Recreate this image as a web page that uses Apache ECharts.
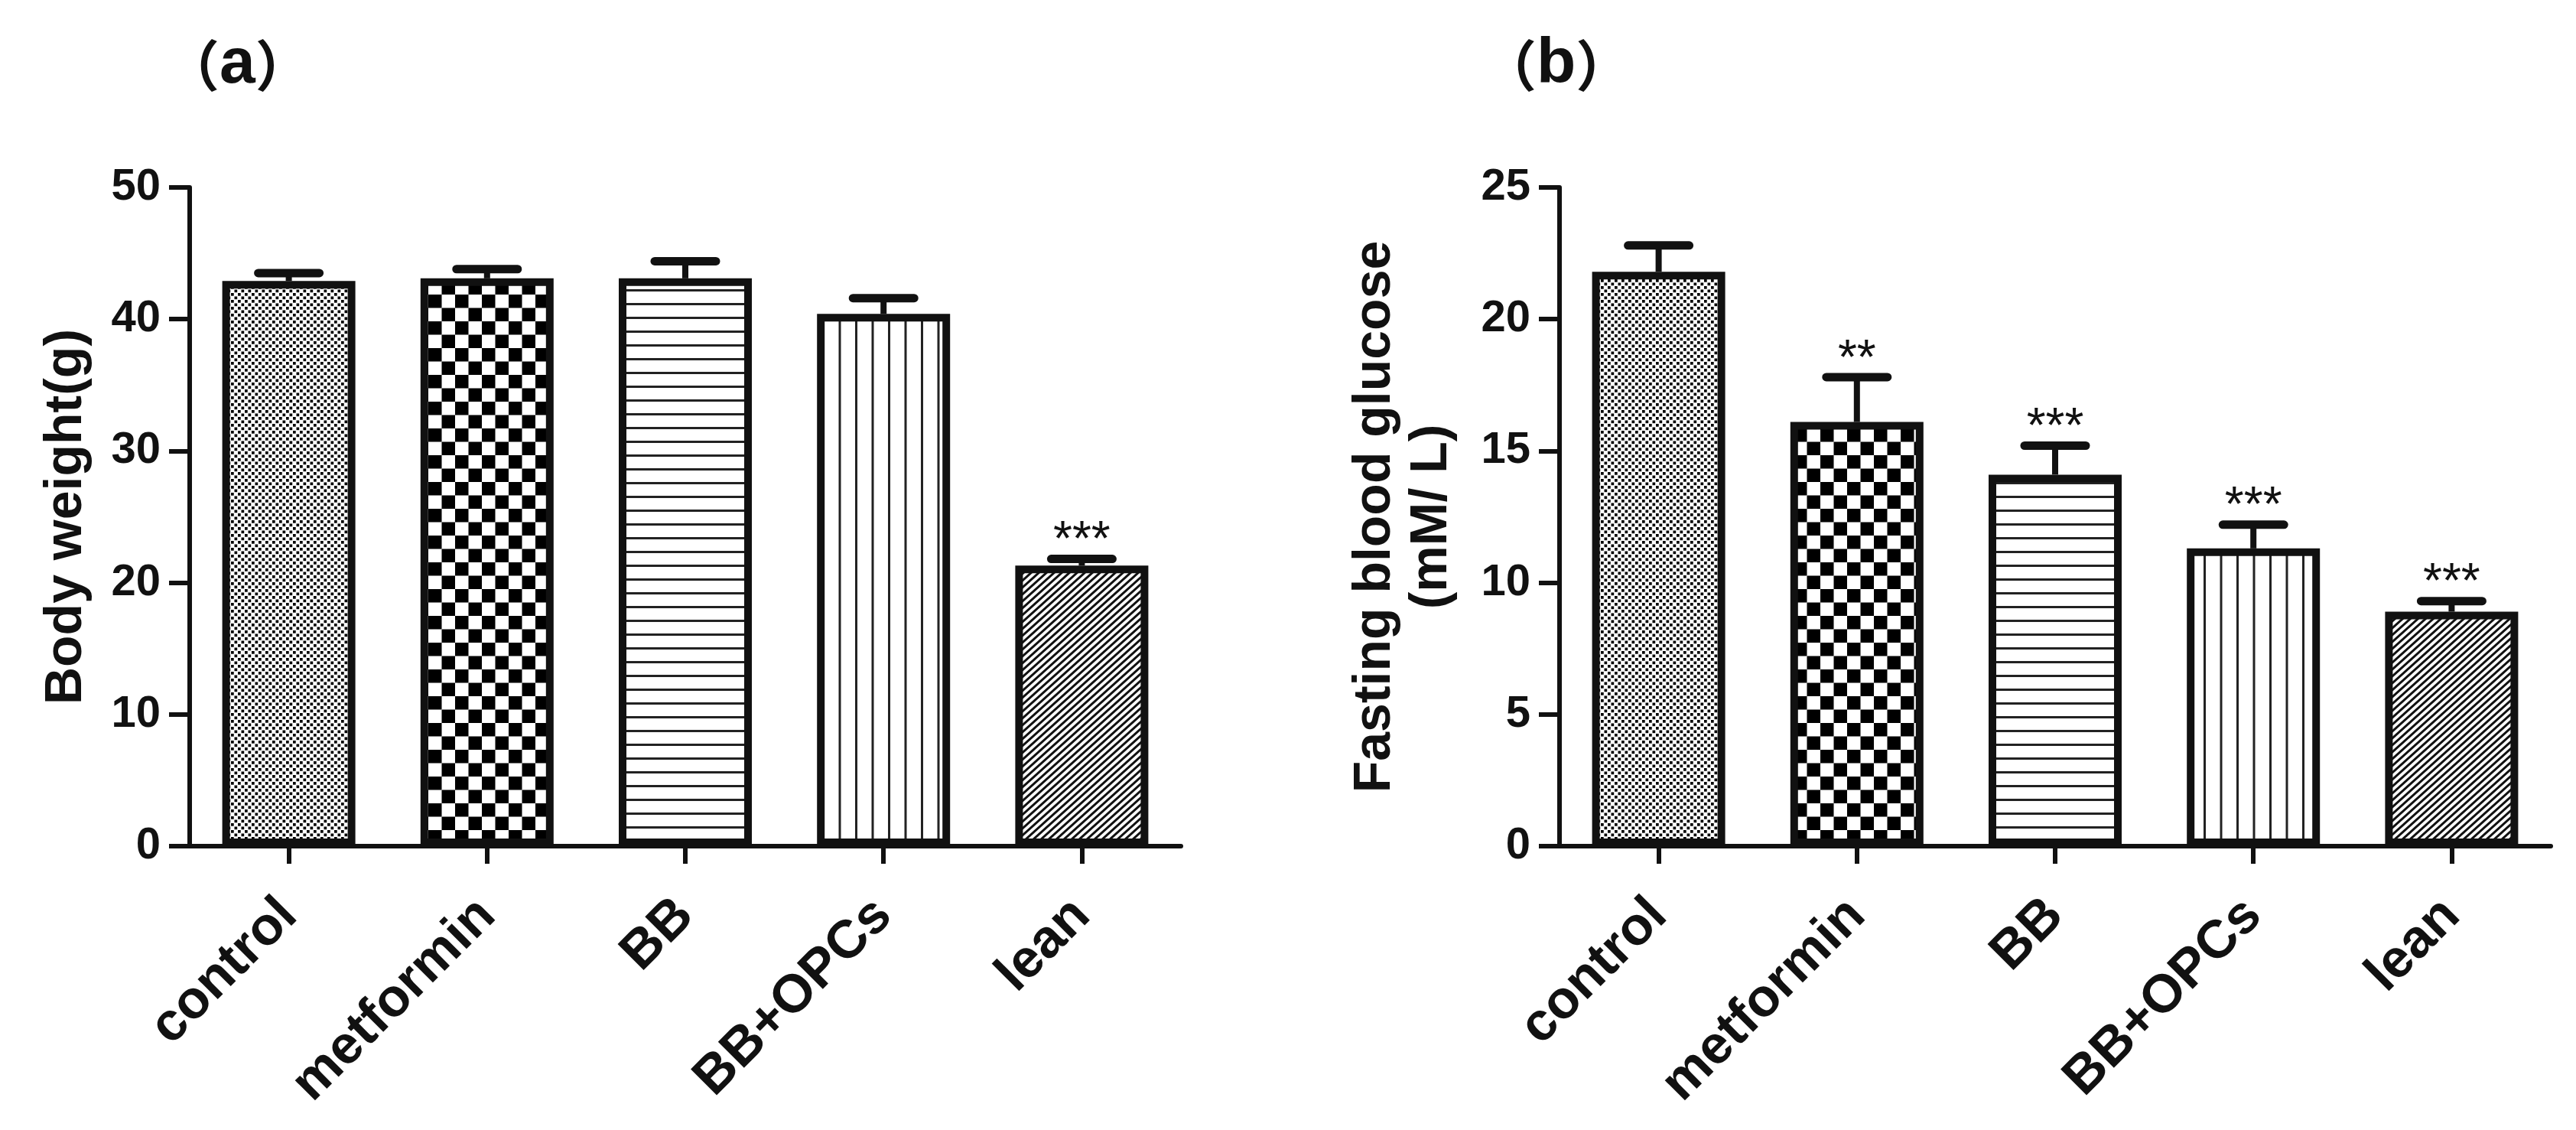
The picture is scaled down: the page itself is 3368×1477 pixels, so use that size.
<!DOCTYPE html>
<html>
<head>
<meta charset="utf-8">
<script src="https://cdn.jsdelivr.net/npm/echarts@6/dist/echarts.min.js"></script>
<style>
  html, body { margin: 0; padding: 0; background: #fff; }
  #chart { width: 3368px; height: 1477px; }
</style>
</head>
<body>
<div id="chart"></div>
<script>
// groups on the x axis
const categories = ['control', 'metformin', 'BB', 'BB+OPCs', 'lean'];

// (a) body weight, g
const weightMean = [42.9, 43.1, 43.1, 40.4, 21.3];
const weightSem = [0.6, 0.7, 1.3, 1.2, 0.5];
const weightStars = ['', '', '', '', '***'];
const weightTicks = [0, 10, 20, 30, 40, 50];

// (b) fasting blood glucose, mM/L
const glucoseMean = [21.8, 16.1, 14.1, 11.3, 8.9];
const glucoseSem = [1.0, 1.7, 1.1, 0.9, 0.4];
const glucoseStars = ['', '**', '***', '***', '***'];
const glucoseTicks = [0, 5, 10, 15, 20, 25];

const FONT = '"Liberation Sans", Arial, sans-serif';
const INK = '#111';

// fill patterns, one per group
function makePattern(kind) {
  const c = document.createElement('canvas');
  let ctx;
  if (kind === 'fineCheck') {
    c.width = 9; c.height = 9;
    ctx = c.getContext('2d');
    ctx.fillStyle = '#fff'; ctx.fillRect(0, 0, 9, 9);
    ctx.fillStyle = '#000';
    ctx.fillRect(0.5, 0.5, 3.7, 3.7);
    ctx.fillRect(5, 5, 3.7, 3.7);
  } else if (kind === 'bigCheck') {
    c.width = 35; c.height = 35;
    ctx = c.getContext('2d');
    ctx.fillStyle = '#fff'; ctx.fillRect(0, 0, 35, 35);
    ctx.fillStyle = '#000';
    ctx.fillRect(0, 0, 17.5, 17.5);
    ctx.fillRect(17.5, 17.5, 17.5, 17.5);
  } else if (kind === 'hLines') {
    c.width = 8; c.height = 18;
    ctx = c.getContext('2d');
    ctx.fillStyle = '#fff'; ctx.fillRect(0, 0, 8, 18);
    ctx.fillStyle = '#222';
    ctx.fillRect(0, 0, 8, 3);
  } else if (kind === 'vLines') {
    c.width = 43; c.height = 8;
    ctx = c.getContext('2d');
    ctx.fillStyle = '#fff'; ctx.fillRect(0, 0, 43, 8);
    ctx.fillStyle = '#222';
    ctx.fillRect(0, 0, 3, 8);
    ctx.fillRect(21.5, 0, 3, 8);
  } else {
    // diagonal hatching rising to the right
    const W = 20, H = 18;
    c.width = W; c.height = H;
    ctx = c.getContext('2d');
    ctx.fillStyle = '#fff'; ctx.fillRect(0, 0, W, H);
    ctx.strokeStyle = '#111';
    ctx.lineWidth = 3;
    for (let k = -2; k <= 6; k++) {
      const cc = k * 9;
      ctx.beginPath();
      ctx.moveTo(-W, cc + H);
      ctx.lineTo(2 * W, cc - 2 * H);
      ctx.stroke();
    }
  }
  return { image: c, repeat: 'repeat' };
}

const patterns = ['fineCheck', 'bigCheck', 'hLines', 'vLines', 'diag'].map(makePattern);

function barSeries(means, axisIdx) {
  return {
    type: 'bar',
    xAxisIndex: axisIdx,
    yAxisIndex: axisIdx,
    barWidth: 174,
    z: 3,
    data: means.map((v, i) => ({
      value: v,
      itemStyle: { color: patterns[i], borderColor: INK, borderWidth: 10 }
    }))
  };
}

function errorSeries(means, sems, stars, axisIdx) {
  return {
    type: 'custom',
    xAxisIndex: axisIdx,
    yAxisIndex: axisIdx,
    z: 2,
    data: means.map((v, i) => [i, v, sems[i]]),
    renderItem: function (params, api) {
      const i = api.value(0);
      const base = api.coord([i, api.value(1)]);
      const top = api.coord([i, api.value(1) + api.value(2)]);
      const x = base[0];
      const children = [
        { type: 'line', shape: { x1: x, y1: base[1], x2: x, y2: top[1] },
          style: { stroke: INK, lineWidth: 8 } },
        { type: 'line', shape: { x1: x - 40, y1: top[1], x2: x + 40, y2: top[1] },
          style: { stroke: INK, lineWidth: 11, lineCap: 'round' } }
      ];
      const s = stars[params.dataIndex];
      if (s) {
        children.push({
          type: 'text',
          style: {
            x: x, y: top[1] - 22, text: s, align: 'center', verticalAlign: 'middle',
            font: 'normal 64px ' + FONT, fill: INK
          }
        });
      }
      return { type: 'group', children: children };
    }
  };
}

function yAxisFor(ticks, name, gridIdx, gap) {
  return {
    type: 'value',
    gridIndex: gridIdx,
    min: ticks[0],
    max: ticks[ticks.length - 1],
    interval: ticks[1] - ticks[0],
    name: name,
    nameLocation: 'middle',
    nameRotate: 90,
    nameGap: gap,
    nameTextStyle: { fontFamily: FONT, fontSize: 68, fontWeight: 'bold', color: INK, lineHeight: 74 },
    axisLine: { show: true, lineStyle: { color: INK, width: 6 } },
    axisTick: { show: true, length: 27, lineStyle: { color: INK, width: 6 } },
    splitLine: { show: false },
    axisLabel: { fontFamily: FONT, fontSize: 58, fontWeight: 'bold', color: INK, margin: 38 }
  };
}

function xAxisFor(gridIdx) {
  return {
    type: 'category',
    gridIndex: gridIdx,
    data: categories,
    axisLine: { show: true, lineStyle: { color: INK, width: 6 } },
    axisTick: { show: true, alignWithLabel: true, length: 23, lineStyle: { color: INK, width: 6 } },
    axisLabel: {
      interval: 0, rotate: 45, margin: 80,
      fontFamily: FONT, fontSize: 70, fontWeight: 'bold', color: INK
    }
  };
}

const panelRich = {
  p: { fontFamily: '"Noto Sans CJK SC", sans-serif', fontSize: 72, color: INK },
  b: { fontFamily: FONT, fontSize: 84, fontWeight: 'bold', color: INK }
};

const chart = echarts.init(document.getElementById('chart'), null, { renderer: 'canvas' });
chart.setOption({
  backgroundColor: '#fff',
  animation: false,
  title: [
    { text: '{p|（}{b|a}{p|）}', left: 210, top: 38, textStyle: { rich: panelRich } },
    { text: '{p|（}{b|b}{p|）}', left: 1932, top: 38, textStyle: { rich: panelRich } }
  ],
  grid: [
    { left: 248, top: 245, width: 1296, height: 861 },
    { left: 2039, top: 245, width: 1296, height: 861 }
  ],
  xAxis: [xAxisFor(0), xAxisFor(1)],
  yAxis: [
    yAxisFor(weightTicks, 'Body weight(g)', 0, 124),
    yAxisFor(glucoseTicks, 'Fasting blood glucose\n(mM/ L)', 1, 130)
  ],
  series: [
    barSeries(weightMean, 0),
    errorSeries(weightMean, weightSem, weightStars, 0),
    barSeries(glucoseMean, 1),
    errorSeries(glucoseMean, glucoseSem, glucoseStars, 1)
  ]
});
</script>
</body>
</html>
